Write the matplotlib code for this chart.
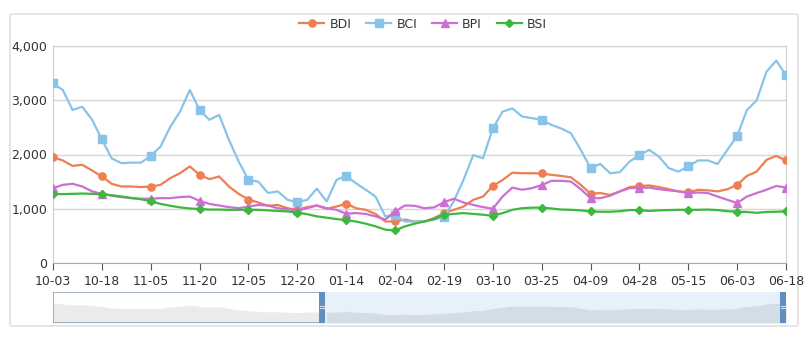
import numpy as np
import matplotlib
matplotlib.use("Agg")
import matplotlib.pyplot as plt
from matplotlib.patches import FancyBboxPatch, Rectangle
from matplotlib.ticker import FuncFormatter

# values, one point every 1/5 of a tick interval
tick_labels = ['10-03', '10-18', '11-05', '11-20', '12-05', '12-20', '01-14', '02-04',
               '02-19', '03-10', '03-25', '04-09', '04-28', '05-15', '06-03', '06-18']

bdi = [1950, 1890, 1790, 1810, 1705, 1595, 1460, 1410, 1410, 1400,
       1410, 1440, 1565, 1655, 1780, 1625, 1545, 1595, 1410, 1275,
       1170, 1115, 1055, 1070, 1010, 980, 1030, 1060, 1000, 1040,
       1095, 1010, 980, 905, 765, 765, 800, 765, 765, 830,
       920, 980, 1040, 1165, 1225, 1420, 1530, 1665, 1655, 1655,
       1650, 1625, 1605, 1580, 1440, 1275, 1290, 1255, 1320, 1400,
       1415, 1430, 1400, 1360, 1320, 1305, 1350, 1340, 1320, 1360,
       1440, 1605, 1685, 1900, 1975, 1890]

bci = [3310, 3190, 2820, 2880, 2640, 2280, 1930, 1840, 1850, 1850,
       1975, 2145, 2510, 2790, 3190, 2820, 2640, 2730, 2270, 1870,
       1530, 1500, 1290, 1320, 1165, 1120, 1165, 1370, 1135, 1530,
       1610, 1470, 1350, 1225, 860, 890, 765, 765, 765, 800,
       850, 1135, 1530, 1990, 1930, 2480, 2790, 2850, 2700, 2670,
       2640, 2545, 2480, 2390, 2085, 1750, 1825, 1655, 1675, 1870,
       1990, 2085, 1960, 1750, 1685, 1780, 1890, 1890, 1825, 2085,
       2340, 2820, 3000, 3525, 3730, 3465]

bpi = [1380, 1440, 1460, 1410, 1320, 1275, 1240, 1215, 1195, 1185,
       1185, 1195, 1195, 1215, 1225, 1145, 1090, 1060, 1030, 1010,
       1040, 1070, 1060, 1010, 990, 970, 1010, 1060, 1010, 980,
       910, 920, 905, 860, 800, 950, 1060, 1055, 1010, 1025,
       1120, 1185, 1115, 1070, 1030, 1000, 1225, 1390, 1350, 1380,
       1435, 1515, 1515, 1500, 1360, 1195, 1195, 1240, 1320, 1380,
       1385, 1390, 1360, 1340, 1320, 1290, 1300, 1290, 1225, 1165,
       1105, 1225, 1290, 1350, 1420, 1390]

bsi = [1270, 1270, 1275, 1280, 1275, 1265, 1250, 1225, 1200, 1175,
       1140, 1090, 1055, 1025, 1005, 995, 985, 985, 980, 980,
       980, 980, 970, 960, 950, 930, 900, 860, 835, 810,
       790, 765, 725, 675, 615, 600, 675, 725, 765, 810,
       890, 905, 920, 905, 890, 870, 920, 980, 1010, 1020,
       1022, 1005, 985, 980, 970, 950, 945, 945, 955, 975,
       975, 960, 970, 975, 980, 980, 980, 985, 975, 955,
       945, 940, 925, 940, 945, 950]

series = [('BDI', bdi, '#EE7F52', 'o'),
          ('BCI', bci, '#88C4EA', 's'),
          ('BPI', bpi, '#CC6FD2', '^'),
          ('BSI', bsi, '#3CB83C', 'D')]

W, H = 806, 337
fig = plt.figure(figsize=(W / 100, H / 100), dpi=100)

# card frame
card = FancyBboxPatch((10 / W, 1 - 326 / H), 788 / W, 312 / H,
                      boxstyle="round,pad=0,rounding_size=0.004",
                      transform=fig.transFigure, facecolor='white',
                      edgecolor='#e0e0e0', lw=1.2, zorder=-5)
fig.patches.append(card)

ax = fig.add_axes([53 / W, 1 - 263 / H, 733 / W, 217 / H])
ax.patch.set_alpha(0)
x = np.arange(len(bdi))
for name, vals, col, mk in series:
    ms = 5.2 if mk != 'D' else 4
    ax.plot(x, vals, color=col, lw=1.6, marker=mk, markevery=5, ms=ms,
            label=name, zorder=3)

ax.set_xlim(0, len(bdi) - 1)
ax.set_ylim(0, 4000)
ax.set_yticks([0, 1000, 2000, 3000, 4000])
ax.yaxis.set_major_formatter(FuncFormatter(lambda v, p: f'{int(v):,}'))
ax.set_xticks(np.arange(0, len(bdi), 5))
ax.set_xticklabels(tick_labels)
ax.grid(axis='y', color='#d6d6d6', lw=1)
ax.set_axisbelow(True)
for s in ax.spines.values():
    s.set_color('#cfcfcf')
ax.spines['bottom'].set_color('#aaaaaa')
ax.spines['left'].set_color('#cccccc')
ax.tick_params(axis='x', colors='#555555', labelcolor='#333333', labelsize=9,
               length=5, direction='out')
ax.tick_params(axis='y', length=0, labelcolor='#333333', labelsize=9, pad=4)

fig.legend(loc='center', bbox_to_anchor=(0.525, 1 - 24 / H), ncol=4,
           frameon=False, fontsize=9, handlelength=2.0, handletextpad=0.4,
           columnspacing=1.2, labelcolor='#333333')

# data zoom slider at the bottom
sl = fig.add_axes([53 / W, 1 - 323 / H, 733 / W, 31 / H])
n = len(bdi) - 1
sl.set_xlim(0, n)
sl.set_ylim(0, 1)
sl.axis('off')
left_end = (322 - 53) / 733 * n
right_end = (783 - 53) / 733 * n
sl.add_patch(Rectangle((left_end, 0), right_end - left_end, 1,
                       facecolor='#e8f1fb', edgecolor='none', zorder=1))
shadow = 0.25 + (np.array(bdi) - 700) / 1300.0 * 0.4
sl.fill_between(x, 0, shadow, where=x <= left_end + 0.5, color='#ebebeb',
                lw=0, zorder=2)
sl.fill_between(x, 0, shadow, where=x >= left_end, color='#d3dde6',
                lw=0, zorder=2)
sl.add_patch(Rectangle((0, 0), left_end, 1, facecolor='none',
                       edgecolor='#8ea3b8', lw=1.2, zorder=3))
for hx in (left_end, right_end):
    sl.add_patch(Rectangle((hx - 0.3, 0), 0.6, 1, facecolor='#5f8ebf',
                           edgecolor='none', zorder=4))
    sl.text(hx, 0.5, '=', color='white', fontsize=6, ha='center',
            va='center', zorder=5)

fig.savefig('out.png', dpi=100)
